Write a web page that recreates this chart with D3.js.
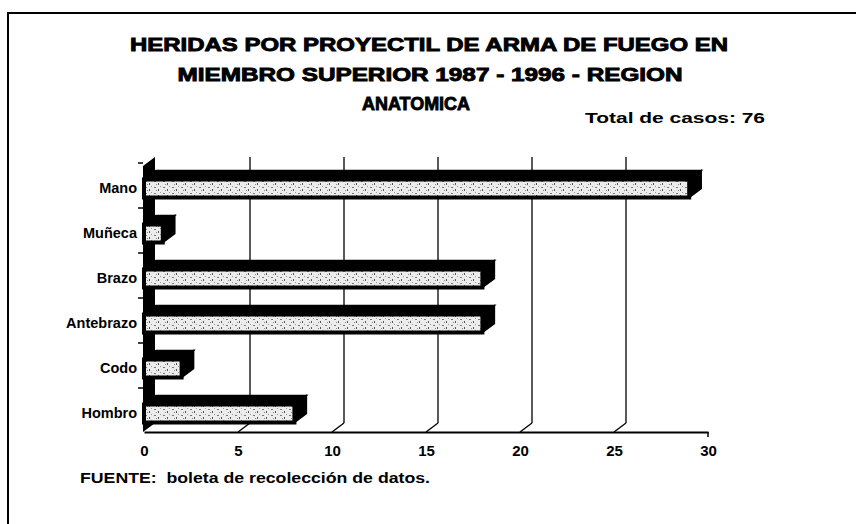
<!DOCTYPE html>
<html>
<head>
  <meta charset="utf-8">
  <title>Heridas por proyectil de arma de fuego - región anatómica</title>
  <style>
  body { margin: 0; background: #fff; }
  svg { display: block; font-family: "Liberation Sans", Arial, sans-serif; }
  .grid { stroke: #000; stroke-width: 1.3px; }
  .cat text { font-size: 14.5px; font-weight: bold; }
  .xax text { font-size: 15px; font-weight: bold; }
  </style>
</head>
<body>
  <svg width="856" height="524"></svg>
  <script src="https://d3js.org/d3.v7.min.js"></script>
  <script>
  // datos
  var categorias = ["Mano", "Muñeca", "Brazo", "Antebrazo", "Codo", "Hombro"];
  var casos = [29, 1, 18, 18, 2, 8];
  var ticksX = [0, 5, 10, 15, 20, 25, 30];
  var titulo = ["HERIDAS POR PROYECTIL DE ARMA DE FUEGO EN",
                "MIEMBRO SUPERIOR 1987 - 1996 - REGION",
                "ANATOMICA"];

  var svg = d3.select("svg");

  // profundidad 3D
  var dx = 12, dy = 9;
  var yBase = 432, yTop = 157;

  var x = d3.scaleLinear().domain([0, 30]).range([144, 708]);
  var y = d3.scaleBand().domain(categorias).range([163, 433]);

  // patron del frente de las barras (textura gris)
  var defs = svg.append("defs");
  var pat = defs.append("pattern")
    .attr("id", "tex")
    .attr("patternUnits", "userSpaceOnUse")
    .attr("width", 9).attr("height", 6);
  pat.append("rect").attr("width", 9).attr("height", 6).attr("fill", "#ececec");
  pat.append("rect").attr("x", 1).attr("y", 1).attr("width", 2).attr("height", 1).attr("fill", "#777");
  pat.append("rect").attr("x", 5).attr("y", 3).attr("width", 1).attr("height", 2).attr("fill", "#555");
  pat.append("rect").attr("x", 7).attr("y", 0).attr("width", 1).attr("height", 1).attr("fill", "#999");
  pat.append("rect").attr("x", 3).attr("y", 4).attr("width", 1).attr("height", 1).attr("fill", "#888");

  // marco
  svg.append("rect")
    .attr("x", 8).attr("y", 13)
    .attr("width", 900).attr("height", 600)
    .attr("fill", "none").attr("stroke", "#000").attr("stroke-width", 2);

  // titulo
  var tw = [598, 505, 108];
  var tc = [429, 430, 416];
  svg.selectAll(".titulo")
    .data(titulo)
    .enter()
    .append("text")
    .attr("class", "titulo")
    .attr("x", function(d, i) { return tc[i]; })
    .attr("y", function(d, i) { return 51 + i * 29.5; })
    .attr("text-anchor", "middle")
    .attr("textLength", function(d, i) { return tw[i]; })
    .attr("lengthAdjust", "spacingAndGlyphs")
    .attr("font-size", 19)
    .attr("font-weight", "bold")
    .attr("stroke", "#000").attr("stroke-width", 0.9)
    .text(function(d) { return d; });

  svg.append("text")
    .attr("x", 765).attr("y", 123)
    .attr("text-anchor", "end")
    .attr("font-size", 14)
    .attr("font-weight", "bold")
    .attr("textLength", 180).attr("lengthAdjust", "spacingAndGlyphs")
    .text("Total de casos: " + d3.sum(casos));

  // lineas de division (pared del fondo)
  var grid = svg.append("g");
  grid.selectAll("line.v")
    .data(ticksX.slice(1, -1))
    .enter().append("line")
    .attr("class", "grid")
    .attr("x1", function(d) { return x(d) + dx; })
    .attr("x2", function(d) { return x(d) + dx; })
    .attr("y1", yBase - dy).attr("y2", yTop);
  grid.selectAll("line.s")
    .data(ticksX.slice(1, -1))
    .enter().append("line")
    .attr("class", "grid")
    .attr("x1", function(d) { return x(d); })
    .attr("x2", function(d) { return x(d) + dx; })
    .attr("y1", yBase).attr("y2", yBase - dy);

  // pared izquierda
  var x0 = x(0) - 1;
  svg.append("path")
    .attr("d", "M" + x0 + "," + yBase +
      "L" + (x0 + dx) + "," + (yBase - dy) +
      "L" + (x0 + dx) + "," + yTop +
      "L" + x0 + "," + (yTop + dy) + "Z")
    .attr("fill", "#000");

  // marcas de categoria a la izquierda
  svg.selectAll(".mc")
    .data(categorias)
    .enter().append("line")
    .attr("x1", x0 - 5).attr("x2", x0)
    .attr("y1", function(d) { return y(d); })
    .attr("y2", function(d) { return y(d); })
    .attr("stroke", "#000").attr("stroke-width", 1.5);

  // barras 3D
  var barras = svg.selectAll(".bar")
    .data(categorias.map(function(c, i) { return { cat: c, v: casos[i] }; }))
    .enter().append("g")
    .attr("class", "bar");

  function caraSup(d) {
    var c = y(d.cat) + y.bandwidth() / 2, yf = c - 6, xa = x(0), xb = x(d.v);
    return "M" + xa + "," + yf + "L" + xb + "," + yf +
      "L" + (xb + dx) + "," + (yf - dy) + "L" + (xa + dx) + "," + (yf - dy) + "Z";
  }
  function caraLat(d) {
    var c = y(d.cat) + y.bandwidth() / 2, yf = c - 6, yb = c + 12, xb = x(d.v);
    return "M" + xb + "," + yf + "L" + (xb + dx) + "," + (yf - dy) +
      "L" + (xb + dx) + "," + (yb - dy) + "L" + xb + "," + yb + "Z";
  }

  barras.append("path").attr("d", caraSup).attr("fill", "#000").attr("stroke", "#000").attr("stroke-width", 1.5);
  barras.append("path").attr("d", caraLat).attr("fill", "#000").attr("stroke", "#000").attr("stroke-width", 1.5);
  barras.append("rect")
    .attr("x", x(0))
    .attr("y", function(d) { return y(d.cat) + y.bandwidth() / 2 - 6; })
    .attr("width", function(d) { return x(d.v) - x(0); })
    .attr("height", 18)
    .attr("fill", "url(#tex)")
    .attr("stroke", "#000").attr("stroke-width", 4);

  // eje de categorias
  svg.append("g")
    .attr("class", "cat")
    .attr("transform", "translate(" + x0 + ",0)")
    .call(d3.axisLeft(y).tickSize(0).tickPadding(6))
    .call(function(g) { g.select(".domain").remove(); })
    .selectAll("text").attr("dy", "0.55em");

  // eje de valores
  var ejeX = svg.append("g")
    .attr("class", "xax")
    .attr("transform", "translate(0," + yBase + ")")
    .call(d3.axisBottom(x).tickValues(ticksX).tickSizeInner(0).tickSizeOuter(0).tickPadding(13));
  ejeX.select(".domain").attr("stroke-width", 2);
  ejeX.append("line")
    .attr("x1", x(30)).attr("x2", x(30))
    .attr("y1", 0).attr("y2", 5)
    .attr("stroke", "#000").attr("stroke-width", 1.5);

  // fuente
  var f = svg.append("text")
    .attr("x", 80).attr("y", 483)
    .attr("font-size", 14.5)
    .attr("textLength", 350).attr("lengthAdjust", "spacingAndGlyphs");
  f.append("tspan").attr("font-weight", "bold").text("FUENTE:");
  f.append("tspan").attr("dx", 8).attr("font-weight", "bold").text("boleta de recolección de datos.");
  </script>
</body>
</html>
